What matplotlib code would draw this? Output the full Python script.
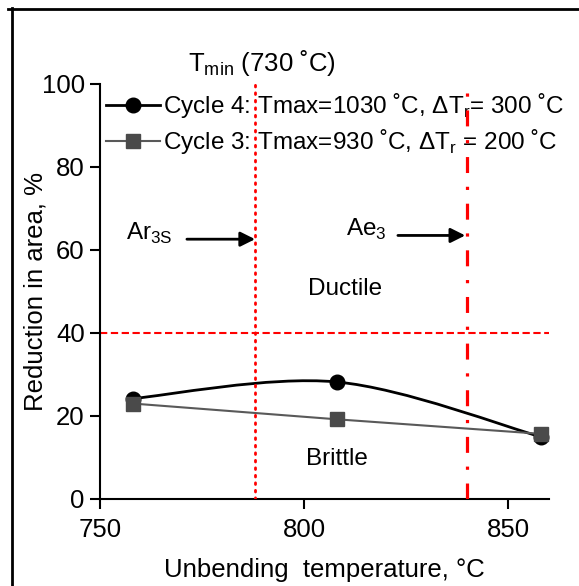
import matplotlib
matplotlib.use("Agg")
import matplotlib.pyplot as plt
from matplotlib.lines import Line2D
from matplotlib.path import Path
from matplotlib.patches import PathPatch
import numpy as np

plt.rcParams['font.family'] = ['Liberation Sans', 'DejaVu Sans']
plt.rcParams['mathtext.fontset'] = 'custom'
plt.rcParams['mathtext.rm'] = 'Liberation Sans'

# Unbending temperature (°C) and reduction in area (%)
temp_c4 = [758, 808, 858]
ra_c4 = [24.2, 28.2, 15.0]
temp_c3 = [758, 808, 858]
ra_c3 = [23.0, 19.2, 15.7]

label_c4 = 'Cycle 4: Tmax=1030 ˚C, ΔT$_{\\mathregular{r}}$= 300 ˚C'
label_c3 = 'Cycle 3: Tmax=930 ˚C, ΔT$_{\\mathregular{r}}$ = 200 ˚C'

ar3s_temp = 788
ae3_temp = 840
ductility_limit = 40

x_ticks = [750, 800, 850]
y_ticks = [0, 20, 40, 60, 80, 100]

FS = 18.5

fig = plt.figure(figsize=(5.79, 5.86), dpi=100)
ax = fig.add_axes([0.1727, 0.1485, 0.948 - 0.1727, 0.8567 - 0.1485])


def smooth_path(xs, ys, k=1 / 6):
    """Cubic Bezier path through the points (spreadsheet-style smoothed line)."""
    pts = np.column_stack([xs, ys]).astype(float)
    n = len(pts)
    verts = [pts[0]]
    codes = [Path.MOVETO]
    for i in range(n - 1):
        p0 = pts[i - 1] if i > 0 else pts[i]
        p1 = pts[i]
        p2 = pts[i + 1]
        p3 = pts[i + 2] if i + 2 < n else pts[i + 1]
        c1 = p1 + (p2 - p0) * k
        c2 = p2 - (p3 - p1) * k
        verts += [c1, c2, p2]
        codes += [Path.CURVE4] * 3
    return Path(verts, codes)


# Cycle 4: smoothed black curve with circle markers
ax.add_patch(PathPatch(smooth_path(temp_c4, ra_c4), facecolor='none',
                       edgecolor='black', lw=2, zorder=3))
ax.plot(temp_c4, ra_c4, linestyle='none', marker='o', ms=10.5,
        color='black', zorder=4)

# Cycle 3: straight grey line with square markers
ax.plot(temp_c3, ra_c3, color='#595959', lw=1.5, marker='s', ms=10.5,
        markerfacecolor='#4a4a4a', markeredgecolor='#4a4a4a', zorder=5)

# Transformation temperatures and ductility limit
ax.axvline(ar3s_temp, color='red', lw=2.0, linestyle=(0, (0.6, 2.1)),
           dash_capstyle='round', zorder=6)
ax.axvline(ae3_temp, color='red', lw=2.3, linestyle=(0, (5, 4.3, 1, 4.3)),
           zorder=6)
ax.axhline(ductility_limit, color='red', lw=1.5, linestyle=(0, (3.5, 1.7)),
           zorder=2)

# Arrows pointing at the transformation lines
ax.annotate('', xy=(ar3s_temp, 62.6), xytext=(771.3, 62.6),
            arrowprops=dict(arrowstyle='-|>', color='black', lw=2,
                            mutation_scale=22, shrinkA=0, shrinkB=0))
ax.annotate('', xy=(ae3_temp - 0.5, 63.5), xytext=(823, 63.5),
            arrowprops=dict(arrowstyle='-|>', color='black', lw=2,
                            mutation_scale=22, shrinkA=0, shrinkB=0))
ax.text(756.4, 64.0, 'Ar$_{\\mathregular{3S}}$', fontsize=FS - 1,
        ha='left', va='center')
ax.text(810.2, 65.0, 'Ae$_{\\mathregular{3}}$', fontsize=FS - 1,
        ha='left', va='center')

ax.text(810, 50.7, 'Ductile', fontsize=FS - 1, ha='center', va='center')
ax.text(808, 9.7, 'Brittle', fontsize=FS - 1, ha='center', va='center')

ax.set_xlim(750, 860)
ax.set_ylim(0, 100)
ax.set_xticks(x_ticks)
ax.set_yticks(y_ticks)
ax.tick_params(axis='both', direction='out', length=7, width=1.5,
               labelsize=FS)
ax.tick_params(axis='x', pad=7)
ax.tick_params(axis='y', pad=4)
for s in ['top', 'right']:
    ax.spines[s].set_visible(False)
for s in ['left', 'bottom']:
    ax.spines[s].set_linewidth(1.5)

ax.set_xlabel('Unbending  temperature, °C', fontsize=FS, labelpad=11)
ax.set_ylabel('Reduction in area, %', fontsize=FS, labelpad=-4)

fig.text(262 / 579, 1 - 63 / 586, 'T$_{\\mathregular{min}}$ (730 ˚C)',
         fontsize=FS, ha='center', va='center')

handles = [
    Line2D([], [], color='black', lw=2, marker='o', ms=10.5),
    Line2D([], [], color='#595959', lw=1.5, marker='s', ms=10.5,
           markerfacecolor='#4a4a4a', markeredgecolor='#4a4a4a'),
]
ax.legend(handles, [label_c4, label_c3], loc='upper left',
          bbox_to_anchor=(-0.008, 1.006), frameon=False, fontsize=17.5,
          handlelength=2.2, handletextpad=0.15, labelspacing=0.28,
          borderaxespad=0.2, borderpad=0.2)

# Frame lines along the left and top of the figure
fig.add_artist(Line2D([12 / 579, 12 / 579], [0, 1 - 8 / 586],
                      color='black', lw=2, transform=fig.transFigure))
fig.add_artist(Line2D([8 / 579, 1], [1 - 9 / 586, 1 - 9 / 586],
                      color='black', lw=2, transform=fig.transFigure))

fig.savefig('out.png', dpi=100)
